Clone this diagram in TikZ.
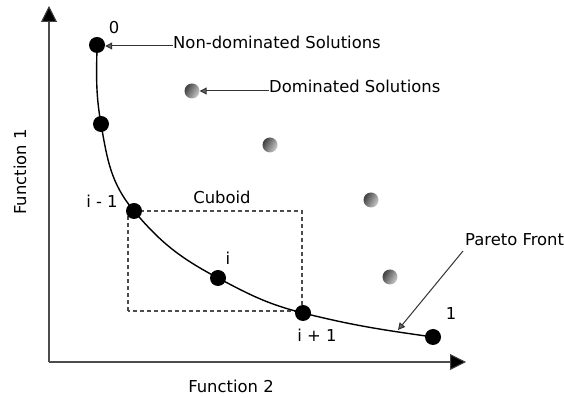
\documentclass[tikz,border=0pt]{standalone}
\usepackage{fontspec}
\setmainfont{DejaVu Sans}
\usetikzlibrary{arrows.meta}
\begin{document}
\begin{tikzpicture}[x=1pt,y=1pt,
  font=\fontsize{16.4}{19}\selectfont,
  axisline/.style={line width=2pt, draw=black!70,
    -{Triangle[length=16pt,width=16pt,fill=black,color=black!75,line width=1pt]}},
  nondom/.style={circle, fill=black, inner sep=0pt, minimum size=16pt},
  dom/.style={circle, inner sep=0pt, minimum size=15pt,
    left color=black!75, right color=black!20, shading angle=60},
  pointer/.style={line width=1pt, draw=black!80,
    -{Triangle[length=7pt,width=7pt,fill=black!60,color=black!80]}},
  cuboid/.style={draw=black!70, line width=1.1pt, dash pattern=on 4pt off 3pt},
  front/.style={line width=1.4pt, draw=black}]
\useasboundingbox (0,0) rectangle (564,398);

% axes
\coordinate (origin) at (49,36);
\coordinate (ytip) at (49,392);
\coordinate (xtip) at (466,36);
\draw[axisline] (origin) -- (ytip);
\draw[axisline] (origin) -- (xtip);
\node[rotate=90] (f1) at (20,226) {Function 1};
\node (f2) at (231,12) {Function 2};

% cuboid around point i
\coordinate (cubA) at (128,87);
\coordinate (cubB) at (302,187);
\draw[cuboid] (cubA) rectangle (cubB);
\node (cub) at (222,201) {Cuboid};

% non-dominated points on the front
\node[nondom] (p0) at (97,353) {};
\node[nondom] (p1) at (101,274) {};
\node[nondom] (pa) at (134,187) {};
\node[nondom] (pb) at (218,120) {};
\node[nondom] (pc) at (303,85) {};
\node[nondom] (pd) at (433,61) {};

% Pareto front through the points
\draw[front] (p0.center) to[out=-91,in=100] (p1.center)
  to[out=-80,in=130] (pa.center)
  to[out=-50,in=152] (pb.center)
  to[out=-28,in=166] (pc.center)
  to[out=-14,in=172] (pd.center);

% dominated points
\node[dom] (d1) at (192,307) {};
\node[dom] (d2) at (270,253) {};
\node[dom] (d3) at (371,198) {};
\node[dom] (d4) at (390,121) {};

% point labels
\node (l0) at (114,370) {0};
\node (la) at (102,197) {i - 1};
\node (lb) at (228,140) {i};
\node (lc) at (317,63) {i + 1};
\node (ld) at (451,84) {1};

% annotations
\node[anchor=west, inner sep=0pt] (tnd) at (173,356) {Non-dominated Solutions};
\draw[pointer] (tnd.west |- 0,352) -- (p0.east |- 0,352);
\node[anchor=west, inner sep=0pt] (td) at (269,312) {Dominated Solutions};
\draw[pointer] (td.west |- 0,307) -- (d1.east |- 0,307);
\node[anchor=west, inner sep=0pt] (tpf) at (465,158) {Pareto Front};
\coordinate (pfhit) at (398,68);
\draw[pointer] (463,147) -- (pfhit);
\end{tikzpicture}
\end{document}
